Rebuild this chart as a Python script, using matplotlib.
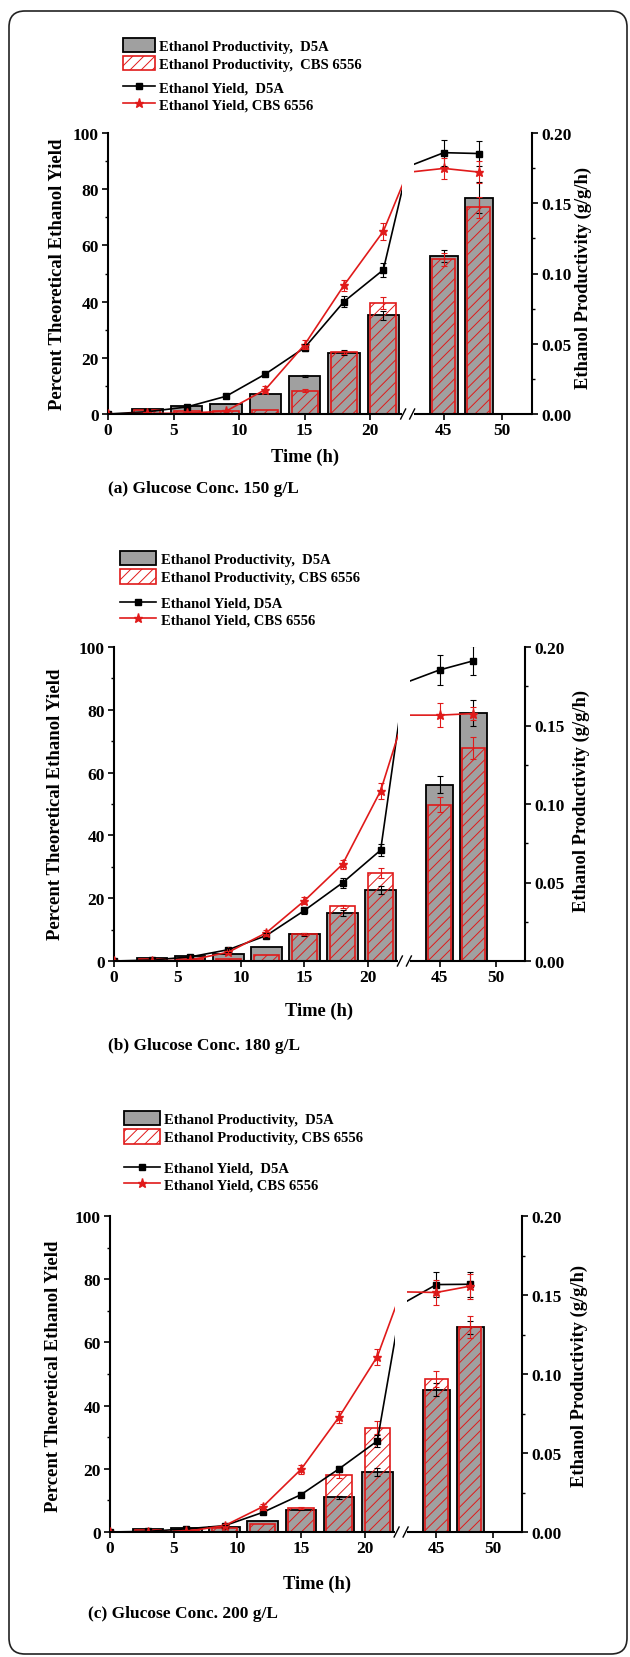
import numpy as np
import matplotlib
matplotlib.use("Agg")
import matplotlib.pyplot as plt
from matplotlib.patches import Rectangle, FancyBboxPatch, Patch
from matplotlib.lines import Line2D
from matplotlib.ticker import FixedLocator, MultipleLocator, FormatStrFormatter

plt.rcParams['font.family'] = ['Liberation Serif', 'DejaVu Serif']
plt.rcParams['font.weight'] = 'bold'
plt.rcParams['hatch.linewidth'] = 0.7

W, H = 630, 1658
RED = '#e01a1a'
GRAY = '#a0a0a0'

# sampling times; the 24 h sample falls inside the axis break
bar_t = [3, 6, 9, 12, 15, 18, 21, 45, 48]
yield_t = [0, 3, 6, 9, 12, 15, 18, 21, 24, 45, 48]

# (a) 150 g/L
a_prod_d5a = [0.0037, 0.0055, 0.0072, 0.0143, 0.0273, 0.0437, 0.0702, 0.1124, 0.1540]
a_prod_d5a_err = [0, 0, 0, 0, 0.0008, 0.0015, 0.0030, 0.0045, 0.0110]
a_prod_cbs = [0.0025, 0.0019, 0.0019, 0.0026, 0.0167, 0.0440, 0.0790, 0.1100, 0.1470]
a_prod_cbs_err = [0, 0, 0, 0, 0.0010, 0.0010, 0.0043, 0.0045, 0.0075]
a_yield_d5a = [0, 0.8, 2.5, 6.3, 14.2, 23.6, 40.0, 51.3, 88.0, 93.0, 92.7]
a_yield_d5a_err = [0, 0, 0, 0.5, 0.8, 1.2, 2.0, 2.5, 0, 4.6, 4.5]
a_yield_cbs = [0, 0.2, 0.3, 1.0, 8.7, 24.7, 45.8, 65.0, 86.0, 87.4, 86.1]
a_yield_cbs_err = [0, 0, 0, 0, 1.2, 1.5, 2.0, 3.0, 0, 3.7, 4.0]

# (b) 180 g/L
b_prod_d5a = [0.0022, 0.0033, 0.0042, 0.0086, 0.0169, 0.0305, 0.0454, 0.1123, 0.1580]
b_prod_d5a_err = [0, 0, 0, 0, 0.0008, 0.0018, 0.0026, 0.0055, 0.0080]
b_prod_cbs = [0.0010, 0.0015, 0.0015, 0.0040, 0.0173, 0.0349, 0.0560, 0.0996, 0.1357]
b_prod_cbs_err = [0, 0, 0, 0, 0.0005, 0.0010, 0.0030, 0.0050, 0.0070]
b_yield_d5a = [0, 0.3, 1.3, 3.6, 8.1, 16.1, 24.9, 35.3, 88.5, 92.7, 95.6]
b_yield_d5a_err = [0, 0, 0, 0.6, 0.8, 1.0, 1.5, 2.0, 0, 4.7, 4.6]
b_yield_cbs = [0, 0, 0.3, 2.8, 9.0, 19.2, 30.8, 54.2, 78.3, 78.3, 78.8]
b_yield_cbs_err = [0, 0, 0, 0.4, 1.0, 1.2, 1.5, 2.5, 0, 3.9, 2.0]

# (c) 200 g/L
c_prod_d5a = [0.0018, 0.0027, 0.0034, 0.0070, 0.0142, 0.0220, 0.0378, 0.0900, 0.1295]
c_prod_d5a_err = [0, 0, 0, 0, 0.0005, 0.0008, 0.0025, 0.0040, 0.0040]
c_prod_cbs = [0.0014, 0.0011, 0.0023, 0.0052, 0.0153, 0.0363, 0.0660, 0.0970, 0.1300]
c_prod_cbs_err = [0, 0, 0, 0, 0.0008, 0.0020, 0.0040, 0.0050, 0.0070]
c_yield_d5a = [0, 0.2, 1.0, 2.0, 6.2, 11.8, 20.0, 28.8, 72.0, 78.3, 78.4]
c_yield_d5a_err = [0, 0, 0, 0.3, 0.5, 0.8, 1.0, 2.0, 0, 4.0, 4.0]
c_yield_cbs = [0, 0, 0.2, 2.0, 8.0, 19.8, 36.4, 55.5, 76.0, 75.8, 77.8]
c_yield_cbs_err = [0, 0, 0, 0.4, 1.0, 1.5, 2.0, 2.5, 0, 4.0, 4.0]

captions = ['(a) Glucose Conc. 150 g/L', '(b) Glucose Conc. 180 g/L', '(c) Glucose Conc. 200 g/L']
bar_labels = [['Ethanol Productivity,  D5A', 'Ethanol Productivity,  CBS 6556'],
              ['Ethanol Productivity,  D5A', 'Ethanol Productivity, CBS 6556'],
              ['Ethanol Productivity,  D5A', 'Ethanol Productivity, CBS 6556']]
line_labels = [['Ethanol Yield,  D5A', 'Ethanol Yield, CBS 6556'],
               ['Ethanol Yield, D5A', 'Ethanol Yield, CBS 6556'],
               ['Ethanol Yield,  D5A', 'Ethanol Yield, CBS 6556']]

# axis break: 22.4 h .. 42.4 h collapsed into a small gap
T_L, T_R, T_MAX = 22.4, 42.4, 52.6
GAP = 12.0
RATIO = 0.885

# pixel layout per panel
layouts = [
    dict(box=(108, 134, 532, 415), leg_bar=(122.5, 38.5), leg_line=(122.5, 82), hl=2.2,
         time=(305, 457), caption=(108, 489), ylab_l=(58, 274), ylab_r=(583, 278)),
    dict(box=(114, 648, 525, 962), leg_bar=(120.5, 552), leg_line=(120.5, 597.5), hl=2.45,
         time=(319, 1011), caption=(108, 1046), ylab_l=(56, 804), ylab_r=(581, 801)),
    dict(box=(110, 1217, 522, 1533), leg_bar=(124, 1112), leg_line=(124, 1162.5), hl=2.45,
         time=(317, 1584), caption=(88, 1614), ylab_l=(54, 1376), ylab_r=(579, 1376)),
]

fig = plt.figure(figsize=(W / 100, H / 100), dpi=100)


def errbars(ax, t, y, e, color):
    t, y, e = np.asarray(t, float), np.asarray(y, float), np.asarray(e, float)
    m = e > 0
    ax.errorbar(t[m], y[m], yerr=e[m], fmt='none', ecolor=color, elinewidth=0.8,
                capsize=2.5, capthick=0.8, zorder=4)


def draw_panel(lay, prod_d5a, prod_d5a_err, prod_cbs, prod_cbs_err,
               yld_d5a, yld_d5a_err, yld_cbs, yld_cbs_err, caption, blabels, llabels):
    x0, top, x1, bottom = lay['box']
    wpx, hpx = x1 - x0, bottom - top
    ax = fig.add_axes([x0 / W, 1 - bottom / H, wpx / W, hpx / H])

    s1 = (wpx - GAP) / (T_L + RATIO * (T_MAX - T_R))
    s2 = RATIO * s1
    kt = [-100, 0, T_L, 24, T_R, T_MAX, 200]
    ku = [-100 * s1, 0, T_L * s1, T_L * s1 + GAP / 2, T_L * s1 + GAP,
          T_L * s1 + GAP + (T_MAX - T_R) * s2, T_L * s1 + GAP + (200 - T_R) * s2]
    ax.set_xscale('function', functions=(lambda t: np.interp(t, kt, ku),
                                         lambda u: np.interp(u, ku, kt)))
    ax.set_xlim(0, T_MAX)
    ax.set_ylim(0, 100)

    ax2 = ax.twinx()
    ax2.set_ylim(0, 0.2)
    ax.set_zorder(ax2.get_zorder() + 1)
    ax.patch.set_visible(False)

    # productivity bars (right axis)
    ax2.bar(bar_t, prod_d5a, width=2.4, color=GRAY, edgecolor='black', linewidth=1.3, zorder=1)
    ax2.bar(bar_t, prod_cbs, width=2.0, facecolor='none', edgecolor=RED, hatch='///',
            linewidth=1.2, zorder=2)
    errbars(ax2, bar_t, prod_d5a, prod_d5a_err, 'black')
    errbars(ax2, bar_t, prod_cbs, prod_cbs_err, RED)

    # yield lines (left axis)
    ax.plot(yield_t, yld_d5a, color='black', lw=1.2, marker='s', ms=4.5, zorder=3)
    ax.plot(yield_t, yld_cbs, color=RED, lw=1.2, marker='*', ms=6.5, zorder=3)
    errbars(ax, yield_t, yld_d5a, yld_d5a_err, 'black')
    errbars(ax, yield_t, yld_cbs, yld_cbs_err, RED)

    # axis break
    fL = T_L * s1 / wpx
    fR = (T_L * s1 + GAP) / wpx
    ax.add_patch(Rectangle((fL, 0.002), fR - fL, 1.0, transform=ax.transAxes,
                           facecolor='white', edgecolor='none', zorder=8))
    for a, b in [(0, fL), (fR, 1)]:
        ax.plot([a, b], [0, 0], transform=ax.transAxes, color='black', lw=1.5,
                clip_on=False, solid_capstyle='butt', zorder=9)
    dx, dy = 2.5 / wpx, 5.0 / hpx
    for xm in (fL + 1.5 / wpx, fR - 1.5 / wpx):
        ax.plot([xm - dx, xm + dx], [-dy, dy], transform=ax.transAxes, color='black',
                lw=1.0, clip_on=False, zorder=9)

    for sp in ('top', 'right', 'bottom'):
        ax.spines[sp].set_visible(False)
    for sp in ('top', 'left', 'bottom'):
        ax2.spines[sp].set_visible(False)
    ax.spines['left'].set_linewidth(1.5)
    ax2.spines['right'].set_linewidth(1.5)

    ax.xaxis.set_major_locator(FixedLocator([0, 5, 10, 15, 20, 45, 50]))
    ax.xaxis.set_minor_locator(FixedLocator([]))
    ax.yaxis.set_major_locator(MultipleLocator(20))
    ax.yaxis.set_minor_locator(MultipleLocator(10))
    ax2.yaxis.set_major_locator(MultipleLocator(0.05))
    ax2.yaxis.set_minor_locator(MultipleLocator(0.025))
    ax2.yaxis.set_major_formatter(FormatStrFormatter('%.2f'))
    ax.tick_params(axis='x', direction='out', length=4, width=1.2, labelsize=12.5, pad=2)
    ax.tick_params(axis='y', which='major', direction='out', length=4.5, width=1.2,
                   labelsize=12.5, pad=2)
    ax.tick_params(axis='y', which='minor', direction='out', length=2.5, width=1.0)
    ax2.tick_params(axis='y', which='major', direction='out', length=4.5, width=1.2,
                    labelsize=12.5, pad=2)
    ax2.tick_params(axis='y', which='minor', direction='out', length=2.5, width=1.0)

    fig.text(lay['ylab_l'][0] / W, 1 - lay['ylab_l'][1] / H, 'Percent Theoretical Ethanol Yield',
             rotation=90, ha='center', va='center', fontsize=13.5)
    fig.text(lay['ylab_r'][0] / W, 1 - lay['ylab_r'][1] / H, 'Ethanol Productivity (g/g/h)',
             rotation=90, ha='center', va='center', fontsize=13.3)
    fig.text(lay['time'][0] / W, 1 - lay['time'][1] / H, 'Time (h)',
             ha='center', va='center', fontsize=13.3)
    fig.text(lay['caption'][0] / W, 1 - lay['caption'][1] / H, caption,
             ha='left', va='center', fontsize=12.5)

    hb = [Patch(facecolor=GRAY, edgecolor='black', linewidth=1.3),
          Patch(facecolor='white', edgecolor=RED, hatch='///', linewidth=1.2)]
    hl = [Line2D([], [], color='black', marker='s', ms=4.5, lw=1.2),
          Line2D([], [], color=RED, marker='*', ms=6.5, lw=1.2)]
    common = dict(loc='upper left', frameon=False, fontsize=10.5, borderpad=0,
                  borderaxespad=0, handletextpad=0.3, handlelength=lay['hl'])
    fig.legend(hb, blabels, bbox_to_anchor=(lay['leg_bar'][0] / W, 1 - lay['leg_bar'][1] / H),
               handleheight=1.15, labelspacing=0.2, **common)
    fig.legend(hl, llabels, bbox_to_anchor=(lay['leg_line'][0] / W, 1 - lay['leg_line'][1] / H),
               labelspacing=0.25, **common)


draw_panel(layouts[0], a_prod_d5a, a_prod_d5a_err, a_prod_cbs, a_prod_cbs_err,
           a_yield_d5a, a_yield_d5a_err, a_yield_cbs, a_yield_cbs_err,
           captions[0], bar_labels[0], line_labels[0])
draw_panel(layouts[1], b_prod_d5a, b_prod_d5a_err, b_prod_cbs, b_prod_cbs_err,
           b_yield_d5a, b_yield_d5a_err, b_yield_cbs, b_yield_cbs_err,
           captions[1], bar_labels[1], line_labels[1])
draw_panel(layouts[2], c_prod_d5a, c_prod_d5a_err, c_prod_cbs, c_prod_cbs_err,
           c_yield_d5a, c_yield_d5a_err, c_yield_cbs, c_yield_cbs_err,
           captions[2], bar_labels[2], line_labels[2])

# rounded frame around the whole figure
frame = FancyBboxPatch((0.09, 0.03), 6.18, 16.43, boxstyle='round,pad=0,rounding_size=0.16',
                       transform=fig.dpi_scale_trans, fill=False, edgecolor='#222222', lw=1.2)
fig.add_artist(frame)

fig.savefig('out.png', dpi=100)
